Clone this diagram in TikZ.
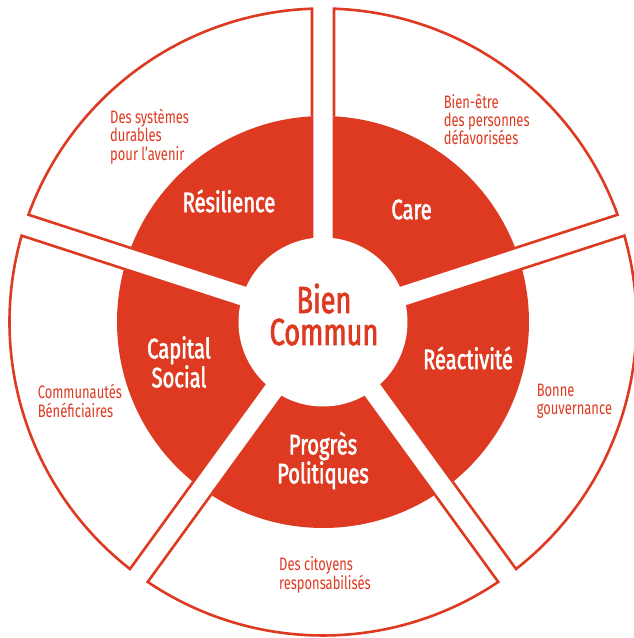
\documentclass[tikz,border=0pt]{standalone}
\usepackage{fontspec}
\setmainfont[FakeStretch=0.72]{Fira Sans}
\newfontfamily\labfont[FakeStretch=0.72,FakeBold=2]{Fira Sans}
\definecolor{bcred}{HTML}{DD3A21}
\tikzset{
  outline/.style={draw=bcred, line width=2.6pt, line join=miter},
  ringsector/.style={fill=bcred},
  ringlabel/.style={text=white, font=\labfont\fontsize{28}{29}\selectfont, align=center, inner sep=0pt},
  centerlabel/.style={text=bcred, font=\labfont\fontsize{37.7}{32}\selectfont, anchor=base, inner sep=0pt, text height=26pt, text depth=0pt},
  smalltext/.style={text=bcred, font=\fontsize{18}{18.3}\selectfont, align=left, anchor=west, inner sep=0pt}
}
\begin{document}
\begin{tikzpicture}[x=1pt,y=1pt]
\useasboundingbox (-323,-316) rectangle (311,322);
\fill[white] (-323,-316) rectangle (311,322);
\def\Ro{313.5}
\def\Rr{206}
\def\Ri{84.5}
\def\ho{11}
\def\hr{9.7}
\foreach \a in {18,-54,-126,-198,-270}{
  \draw[outline] ({\a+asin(\ho/\Rr)}:\Rr) -- ({\a+asin(\ho/\Ro)}:\Ro)
     arc[start angle={\a+asin(\ho/\Ro)}, end angle={\a+72-asin(\ho/\Ro)}, radius=\Ro]
     -- ({\a+72-asin(\ho/\Rr)}:\Rr);
  \fill[ringsector] ({\a+36}:{\hr/sin(36)}) -- ({\a+asin(\hr/\Rr)}:\Rr)
     arc[start angle={\a+asin(\hr/\Rr)}, end angle={\a+72-asin(\hr/\Rr)}, radius=\Rr] -- cycle;
}
\fill[white] (0,0) circle[radius=\Ri];
\node[centerlabel] (bien) at (1,9) {Bien};
\node[centerlabel] (commun) at (1,-23) {Commun};
\node[ringlabel] (resil) at (-94,121) {Résilience};
\node[ringlabel] (care) at (88.6,112.5) {Care};
\node[ringlabel] (react) at (145,-36) {Réactivité};
\node[ringlabel] (progres) at (0,-138.5) {Progrès\\Politiques};
\node[ringlabel] (capital) at (-144,-40) {Capital\\Social};
\node[smalltext] (durable) at (-213,185.3) {Des systèmes\\durables\\pour l'avenir};
\node[smalltext] (bienetre) at (120.6,202.6) {Bien-être\\des personnes\\défavorisées};
\node[smalltext] (bonne) at (213.6,-79) {Bonne\\gouvernance};
\node[smalltext] (citoyens) at (-44,-252.8) {Des citoyens\\responsabilisés};
\node[smalltext] (communautes) at (-285.4,-79) {Communautés\\Bénéficiaires};
\end{tikzpicture}
\end{document}
